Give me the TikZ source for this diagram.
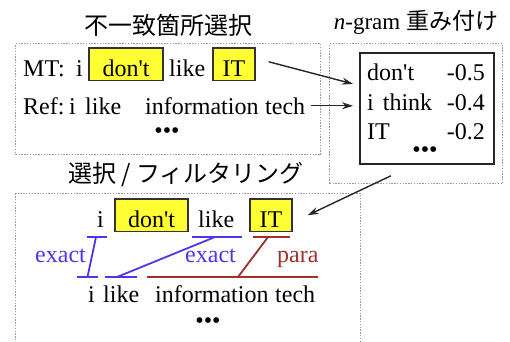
\documentclass[tikz,border=0pt]{standalone}
\usepackage{fontspec}
\setmainfont{Liberation Serif}
\newfontfamily\serifw{Liberation Serif}
\newfontfamily\jpfont{Noto Sans CJK JP}
\usetikzlibrary{arrows.meta}
\definecolor{ablue}{HTML}{5533EE}
\definecolor{ared}{HTML}{A0302A}
\definecolor{dotgray}{HTML}{9A9A9A}
\definecolor{hl}{HTML}{FFFF33}
\begin{document}
\begin{tikzpicture}[x=1pt,y=-1pt,
  word/.style={anchor=base west, inner sep=0pt, font=\serifw\fontsize{24}{28}\selectfont},
  wordr/.style={anchor=base east, inner sep=0pt, font=\serifw\fontsize{24}{28}\selectfont},
  hlbox/.style={draw=black!80, line width=1.3pt, fill=hl, anchor=base, inner xsep=0pt,
    inner ysep=2pt, text height=26pt, text depth=2.5pt, font=\serifw\fontsize{24}{28}\selectfont},
  title/.style={inner sep=0pt, font=\fontsize{24}{28}\selectfont\jpfont},
  dbox/.style={draw=dotgray, line width=1.4pt, dash pattern=on 1.4pt off 1.4pt, anchor=north west, inner sep=0pt},
  sbox/.style={draw=black!85, line width=1.8pt, anchor=north west, inner sep=0pt},
  dots/.style={inner sep=0pt, font=\serifw\fontsize{24}{28}\selectfont},
  arr/.style={draw=black!85, line width=1.4pt, -{Stealth[length=11pt,width=7pt]}},
  bl/.style={draw=ablue, line width=1.8pt},
  rd/.style={draw=ared, line width=1.8pt},
  lab/.style={anchor=base west, inner sep=0pt, font=\serifw\fontsize{24}{28}\selectfont}
]
\useasboundingbox (0,0) rectangle (510,341);
\fill[white] (0,0) rectangle (510,341);
\clip (0,0) rectangle (510,341);

% frames
\node[dbox, minimum width=305pt, minimum height=111pt] (fL) at (15,43) {};
\node[dbox, minimum width=173pt, minimum height=140pt] (fR) at (329,43) {};
\node[dbox, minimum width=345pt, minimum height=170pt] (fB) at (15,193) {};
\node[sbox, minimum width=134pt, minimum height=111pt] (ngram) at (359,52) {};

% titles
\node[title] (t1) at (168,25) {不一致箇所選択};
\node[title, font=\fontsize{23}{28}\selectfont] (t2) at (416,22) {{\serifw\textit{n}-gram} {\jpfont 重み付け}};
\node[title] (t3) at (186,175) {選択 / フィルタリング};

% MT row
\node[word] (mt) at (23,76) {MT:};
\node[word] (mti) at (76,76) {i};
\node[hlbox, minimum width=74pt] (dontA) at (126,76) {don\textquotesingle t};
\node[word] (likeA) at (169,76) {like};
\node[hlbox, minimum width=42pt] (itA) at (234,76) {IT};

% Ref row
\node[word] (ref) at (23,114) {Ref:};
\node[word] (refi) at (69,114) {i};
\node[word] (refl) at (85,114) {like};
\node[word] (refinf) at (145,114) {information};
\node[word] (techA) at (265,114) {tech};
\node[dots] (dotsA) at (167,133) {•••};

% n-gram box contents
\node[word] (g1) at (367,80) {don\textquotesingle t};
\node[wordr] (v1) at (485,80) {-0.5};
\node[word] (g2) at (367,110) {i\hspace{9pt}think};
\node[wordr] (v2) at (485,110) {-0.4};
\node[word] (g3) at (367,139) {IT};
\node[wordr] (v3) at (485,139) {-0.2};
\node[dots] (dotsN) at (425,152) {•••};

% bottom top row
\node[word] (bi) at (97,227) {i};
\node[hlbox, minimum width=73pt] (dontB) at (151.5,227) {don\textquotesingle t};
\node[word] (blike) at (198,227) {like};
\node[hlbox, minimum width=42pt] (itB) at (271,227) {IT};

% arrows
\draw[arr] ([xshift=13pt,yshift=2.5pt]itA.east) -- ([xshift=-6pt,yshift=24.5pt]ngram.west);
\draw[arr, shorten <=6pt, shorten >=6pt] (techA.east) -- (techA.east -| ngram.west);
\draw[arr] ([xshift=-36pt,yshift=-11pt]ngram.south) -- ([xshift=15pt]itB.east);

% bottom ref row
\node[word] (ri) at (88,302) {i};
\node[word] (rlike) at (103,302) {like};
\node[word] (rinf) at (155,302) {information};
\node[word] (rtech) at (275,302) {tech};
\node[dots] (dotsB) at (208,323) {•••};

% alignment links
\draw[bl] (87,237) -- (107,237);
\draw[bl] (77,277) -- (98,277);
\draw[bl] (96,237) -- (87.5,277);
\draw[bl] (192,237) -- (242,237);
\draw[bl] (105,277) -- (137,277);
\draw[bl] (215,237) -- (117,277);
\draw[rd] (253,237) -- (290,237);
\draw[rd] (147,277) -- (318,277);
\draw[rd] (268,237) -- (238,277);

\node[lab, text=ablue] (ex1) at (35,262) {exact};
\node[lab, text=ablue] (ex2) at (185,262) {exact};
\node[lab, text=ared] (para) at (277,262) {para};
\end{tikzpicture}
\end{document}
